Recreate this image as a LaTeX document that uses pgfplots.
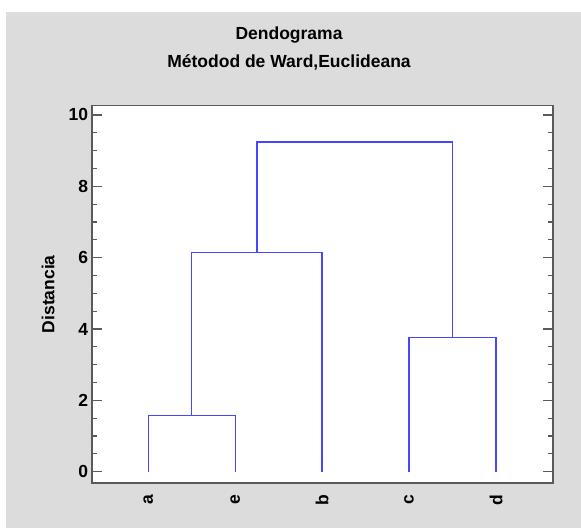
\documentclass[border=0pt]{standalone}
\usepackage{pgfplots}
\pgfplotsset{compat=1.18}
\usepackage{fontspec}
\setmainfont{Liberation Sans}

\definecolor{bggray}{RGB}{220,220,220}
\definecolor{framegray}{RGB}{90,90,90}
\definecolor{dendro}{RGB}{70,70,255}

\newcommand{\labfont}{\fontsize{17.5bp}{21bp}\selectfont\bfseries}

\begin{document}
\begin{tikzpicture}
% panel
\fill[white] (0,0) rectangle (581bp,528bp);
\fill[bggray] (6bp,0) rectangle (581bp,516bp);
% title
\node[anchor=base] at (289bp,488.6bp) {\labfont Dendograma};
\node[anchor=base] at (289bp,460.3bp) {\labfont Métodod de Ward,Euclideana};

\begin{axis}[
    at={(91.7bp,45.3bp)}, anchor=south west,
    scale only axis,
    width=461bp, height=377bp,
    xmin=0.349, xmax=5.652,
    ymin=-0.308, ymax=10.26,
    xtick={1,2,3,4,5},
    xticklabels={a,e,b,c,d},
    ytick={0,2,4,6,8,10},
    minor y tick num=3,
    ytick pos=both,
    yticklabel pos=left,
    tick align=inside,
    major tick length=10bp,
    minor tick length=5bp,
    every x tick/.style={draw=none},
    tick style={draw=framegray, line width=1.2bp},
    axis line style={draw=framegray, line width=1.6bp},
    axis background/.style={fill=white},
    /pgf/number format/assume math mode=true,
    ticklabel style={font=\labfont},
    xticklabel style={rotate=90, anchor=east, xshift=-9bp},
    ylabel={Distancia},
    ylabel style={font=\labfont, at={(axis description cs:-0.0948,0.5)}, anchor=center},
    clip=false,
]
\addplot[dendro, line width=1.4bp] coordinates {(1,0) (1,1.57) (2,1.57) (2,0)};
\addplot[dendro, line width=1.4bp] coordinates {(4,0) (4,3.77) (5,3.77) (5,0)};
\addplot[dendro, line width=1.4bp] coordinates {(1.5,1.57) (1.5,6.14) (3,6.14) (3,0)};
\addplot[dendro, line width=1.4bp] coordinates {(2.25,6.14) (2.25,9.24) (4.5,9.24) (4.5,3.77)};
\end{axis}
\end{tikzpicture}
\end{document}
